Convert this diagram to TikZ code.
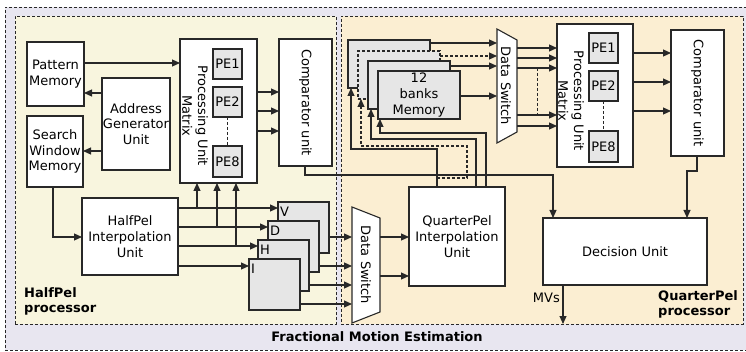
\documentclass[tikz,border=0pt]{standalone}
\usepackage{fontspec}
\setmainfont{DejaVu Sans}
\usetikzlibrary{arrows.meta}
\definecolor{linec}{RGB}{40,40,40}
\definecolor{outerf}{RGB}{232,230,240}
\definecolor{halff}{RGB}{248,245,222}
\definecolor{quartf}{RGB}{251,238,210}
\definecolor{grayf}{RGB}{230,230,230}
\newcommand\dfont{\fontsize{13}{15.7}\selectfont}
\tikzset{
  con/.style={draw=linec, line width=1.1pt},
  arr/.style={draw=linec, line width=1.1pt, -{Triangle[length=8pt,width=7pt]}},
  dsh/.style={dash pattern=on 3pt off 2pt},
  box/.style={draw=linec, line width=1.1pt, fill=white, inner sep=0pt, outer sep=0pt, align=center, font=\dfont},
  gbox/.style={box, fill=grayf},
  region/.style={draw=linec, line width=0.8pt, dash pattern=on 3pt off 2pt, inner sep=0pt, outer sep=0pt},
  txt/.style={inner sep=0pt, font=\dfont, align=center},
  btxt/.style={inner sep=0pt, font=\dfont\bfseries, align=left},
  anchorbox/.style={inner sep=0pt, outer sep=0pt},
}
\begin{document}
\begin{tikzpicture}[x=1pt,y=-1pt]
\useasboundingbox (0,0) rectangle (746,352);
\clip (0,0) rectangle (746,352);
\fill[white] (0,0) rectangle (746,352);
% regions
\node[region, fill=outerf, minimum width=747, minimum height=343] (outer) at (378.5,178.5) {};
\node[region, fill=halff, minimum width=321, minimum height=308] (hreg) at (175.5,170) {};
\node[region, fill=quartf, minimum width=402, minimum height=308] (qreg) at (542,170) {};
\node[btxt] (title) at (377,337) {Fractional Motion Estimation};
\node[btxt, anchor=west] (hlab) at (24,301.5) {HalfPel\\processor};
\node[btxt, anchor=west] (qlab) at (658,304.5) {QuarterPel\\processor};

% HalfPel processor
\node[box, minimum width=57, minimum height=64] (pm) at (55.5,74) {Pattern\\Memory};
\node[box, minimum width=56, minimum height=71] (sw) at (55,151.5) {Search\\Window\\Memory};
\node[box, minimum width=68, minimum height=92] (ag) at (136,124) {Address\\Generator\\Unit};
\node[box, minimum width=77, minimum height=144] (pu1) at (218.5,111) {};
\node[txt, rotate=-90] (pu1t) at (195,116) {Processing Unit\\Matrix};
\node[gbox, minimum width=29, minimum height=30] (pe11) at (227.5,64) {PE1};
\node[gbox, minimum width=29, minimum height=30] (pe12) at (227.5,102) {PE2};
\node[gbox, minimum width=29, minimum height=31] (pe18) at (227.5,161.5) {PE8};
\draw[con, line width=0.8pt, dsh] (pe12.south) -- (pe18.north);
\node[box, minimum width=53, minimum height=127] (cmp1) at (305.5,102.5) {};
\node[txt, rotate=-90] (cmp1t) at (cmp1.center) {Comparator unit};
\node[box, minimum width=96, minimum height=77] (hi) at (130,236.5) {HalfPel\\Interpolation\\Unit};
\node[gbox, minimum width=51, minimum height=51] (V) at (303.5,227.5) {};
\node[txt, anchor=north west] (Vl) at ([shift={(2,5)}]V.north west) {V};
\node[gbox, minimum width=51, minimum height=51] (D) at (293.5,246.5) {};
\node[txt, anchor=north west] (Dl) at ([shift={(2,5)}]D.north west) {D};
\node[gbox, minimum width=51, minimum height=51] (H) at (283.5,265.5) {};
\node[txt, anchor=north west] (Hl) at ([shift={(2,5)}]H.north west) {H};
\node[gbox, minimum width=51, minimum height=51] (I) at (274.5,284.5) {};
\node[txt, anchor=north west] (Il) at ([shift={(2,5)}]I.north west) {I};

% Data switch 1
\draw[con, fill=white] (352,207) -- (380,218) -- (380,312) -- (352,323) -- cycle;
\node[anchorbox, minimum width=28, minimum height=116] (ds1) at (366,265) {};
\node[txt, rotate=-90] (ds1t) at (ds1.center) {Data Switch};

% QuarterPel processor
\node[box, minimum width=96, minimum height=99] (qi) at (457,236.5) {QuarterPel\\Interpolation\\Unit};
\node[gbox, minimum width=82, minimum height=48] (b1) at (389,64) {};
\node[gbox, dsh, minimum width=82, minimum height=48] (b2) at (399,75) {};
\node[gbox, minimum width=82, minimum height=48] (b3) at (409,85) {};
\node[gbox, minimum width=82, minimum height=48] (b4) at (419,95) {12\\banks\\Memory};

\draw[con, fill=white] (497,29) -- (517,40) -- (517,132) -- (497,143) -- cycle;
\node[anchorbox, minimum width=20, minimum height=114] (ds2) at (507,86) {};
\node[txt, rotate=-90] (ds2t) at (506,86) {Data Switch};

\node[box, minimum width=76, minimum height=143] (pu2) at (595,95.5) {};
\node[txt, rotate=-90] (pu2t) at (571,101) {Processing Unit\\Matrix};
\node[gbox, minimum width=29, minimum height=30] (pe21) at (603.5,48) {PE1};
\node[gbox, minimum width=29, minimum height=30] (pe22) at (603.5,86) {PE2};
\node[gbox, minimum width=29, minimum height=31] (pe28) at (603.5,146.5) {PE8};
\draw[con, line width=0.8pt, dsh] (pe22.south) -- (pe28.north);
\node[box, minimum width=53, minimum height=126] (cmp2) at (697.5,93) {};
\node[txt, rotate=-90] (cmp2t) at (cmp2.center) {Comparator unit};
\node[box, minimum width=164, minimum height=67] (du) at (625,251.5) {Decision Unit};

% junctions
\coordinate (j1) at (197,208);
\coordinate (j2) at (217,227);
\coordinate (j3) at (236,246);
\coordinate (jd) at (437,178);
\coordinate (jsw) at (537,68);
\coordinate (jsw2) at (537,115);
\coordinate (mv) at (563,324);

% HalfPel connectors
\draw[arr] (ag.west |- 0,93) -- (pm.east |- 0,93);
\draw[arr] (ag.west |- 0,151) -- (sw.east |- 0,151);
\draw[arr] (pm.east |- 0,63) -- (pu1.west |- 0,63);
\foreach \yy in {92,111,131} \draw[arr] (pu1.east |- 0,\yy) -- (cmp1.west |- 0,\yy);
\draw[arr] (sw.south -| 53,0) |- (hi.west |- 0,237);
\draw[arr] (hi.east |- j1) -- (V.west |- j1);
\draw[arr] (j1) -- (pu1.south -| j1);
\draw[arr] (hi.east |- j2) -- (D.west |- j2);
\draw[arr] (j2) -- (pu1.south -| j2);
\draw[arr] (hi.east |- j3) -- (H.west |- j3);
\draw[arr] (j3) -- (pu1.south -| j3);
\draw[arr] (hi.east |- 0,266) -- (I.west |- 0,266);
\draw[arr] (V.east |- 0,237) -- (ds1.west |- 0,237);
\draw[arr] (D.east |- 0,266) -- (ds1.west |- 0,266);
\draw[arr] (H.east |- 0,285) -- (ds1.west |- 0,285);
\draw[arr] (I.east |- 0,304) -- (ds1.west |- 0,304);
\draw[arr] (ds1.east |- 0,237) -- (qi.west |- 0,237);
\draw[arr] (ds1.east |- 0,276) -- (qi.west |- 0,276);

% QuarterPel connectors
\draw[arr] (b1.east |- 0,43) -- (ds2.west |- 0,43);
\draw[arr, dsh] (b2.east |- 0,56) -- (ds2.west |- 0,56);
\draw[arr] (b3.east |- 0,66) -- (ds2.west |- 0,66);
\draw[arr] (b4.east |- 0,96) -- (ds2.west |- 0,96);
\foreach \yy in {48,58,68,115,126} \draw[arr] (ds2.east |- 0,\yy) -- (pu2.west |- 0,\yy);
\draw[con, line width=0.8pt, dsh] (jsw) -- (jsw2);
\foreach \yy in {53,82,111} \draw[arr] (pu2.east |- 0,\yy) -- (cmp2.west |- 0,\yy);
\draw[arr] (qi.north -| 437,0) |- (351,149) -- (b1.south -| 351,0);
\draw[arr, dsh] (jd) -- (467,178) |- (361,146) -- (b2.south -| 361,0);
\draw[arr] (qi.north -| 476,0) |- (371,139) -- (b3.south -| 371,0);
\draw[arr] (qi.north -| 486,0) |- (380,133) -- (b4.south -| 380,0);
\draw[arr] (cmp1.south -| 305,0) |- (553,175) -- (du.north -| 553,0);
\draw[arr] (cmp2.south -| 697,0) -- (697,171) -- (687,171) -- (du.north -| 687,0);
\draw[arr] (du.south -| mv) -- (mv);
\node[txt, anchor=east] (mvl) at (560,298) {MVs};
\end{tikzpicture}
\end{document}
